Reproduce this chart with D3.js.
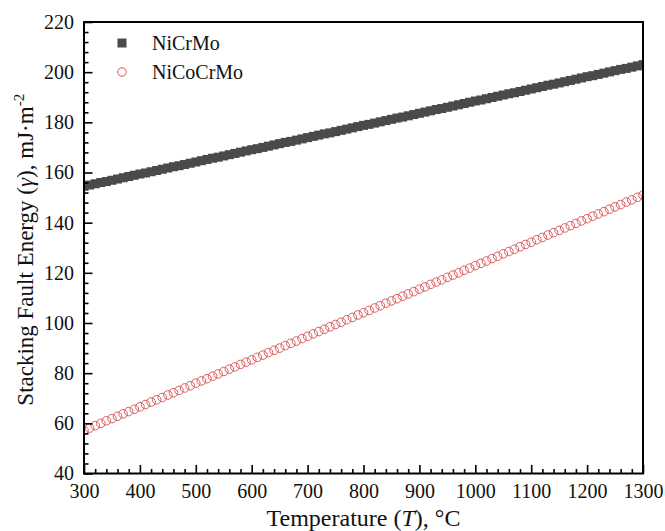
<!DOCTYPE html>
<html>
<head>
<meta charset="utf-8">
<script src="https://cdn.jsdelivr.net/npm/d3@7"></script>
<style>
  html, body { margin: 0; padding: 0; background: #fff; }
  svg { display: block; }
  text { font-family: "Liberation Serif", "Times New Roman", serif; fill: #111; }
</style>
</head>
<body>
<svg id="chart" width="665" height="531"></svg>
<script>
// ---- data ----
const temperatures = [300,310,320,330,340,350,360,370,380,390,400,410,420,430,440,450,460,470,480,490,500,510,520,530,540,550,560,570,580,590,600,610,620,630,640,650,660,670,680,690,700,710,720,730,740,750,760,770,780,790,800,810,820,830,840,850,860,870,880,890,900,910,920,930,940,950,960,970,980,990,1000,1010,1020,1030,1040,1050,1060,1070,1080,1090,1100,1110,1120,1130,1140,1150,1160,1170,1180,1190,1200,1210,1220,1230,1240,1250,1260,1270,1280,1290,1300];
const sfeNiCrMo = [154.5,155.0,155.5,156.0,156.4,156.9,157.4,157.9,158.4,158.9,159.4,159.8,160.3,160.8,161.3,161.8,162.3,162.7,163.2,163.7,164.2,164.7,165.2,165.7,166.1,166.6,167.1,167.6,168.1,168.6,169.1,169.5,170.0,170.5,171.0,171.5,172.0,172.4,172.9,173.4,173.9,174.4,174.9,175.4,175.8,176.3,176.8,177.3,177.8,178.3,178.8,179.2,179.7,180.2,180.7,181.2,181.7,182.1,182.6,183.1,183.6,184.1,184.6,185.1,185.5,186.0,186.5,187.0,187.5,188.0,188.5,188.9,189.4,189.9,190.4,190.9,191.4,191.8,192.3,192.8,193.3,193.8,194.3,194.8,195.2,195.7,196.2,196.7,197.2,197.7,198.2,198.6,199.1,199.6,200.1,200.6,201.1,201.5,202.0,202.5,203.0];
const sfeNiCoCrMo = [57.2,58.1,59.1,60.0,61.0,61.9,62.8,63.8,64.7,65.6,66.6,67.5,68.5,69.4,70.3,71.3,72.2,73.1,74.1,75.0,76.0,76.9,77.8,78.8,79.7,80.7,81.6,82.5,83.5,84.4,85.3,86.3,87.2,88.2,89.1,90.0,91.0,91.9,92.8,93.8,94.7,95.7,96.6,97.5,98.5,99.4,100.3,101.3,102.2,103.2,104.1,105.0,106.0,106.9,107.9,108.8,109.7,110.7,111.6,112.5,113.5,114.4,115.4,116.3,117.2,118.2,119.1,120.0,121.0,121.9,122.9,123.8,124.7,125.7,126.6,127.6,128.5,129.4,130.4,131.3,132.2,133.2,134.1,135.1,136.0,136.9,137.9,138.8,139.7,140.7,141.6,142.6,143.5,144.4,145.4,146.3,147.2,148.2,149.1,150.1,151.0];
const seriesNames = ["NiCrMo", "NiCoCrMo"];
const xTickValues = [300,400,500,600,700,800,900,1000,1100,1200,1300];
const yTickValues = [40,60,80,100,120,140,160,180,200,220];

// ---- layout ----
const W = 665, H = 531;
const margin = {left: 84, right: 22, top: 22, bottom: 57.5};
const iw = W - margin.left - margin.right;
const ih = H - margin.top - margin.bottom;

const svg = d3.select("#chart");
const g = svg.append("g").attr("transform", `translate(${margin.left},${margin.top})`);

const x = d3.scaleLinear().domain([300, 1300]).range([0, iw]);
const y = d3.scaleLinear().domain([40, 220]).range([ih, 0]);

svg.append("defs").append("clipPath").attr("id", "clip")
  .append("rect").attr("x", 0).attr("y", 0).attr("width", iw).attr("height", ih);

const plot = g.append("g").attr("clip-path", "url(#clip)");

const squareSize = 9;
const sqColor = "#4a4a4a";
const circColor = "#dd5c5c";
const circR = 4.3;

// NiCoCrMo circles
plot.append("g").selectAll("circle")
  .data(temperatures.map((t, i) => ({t, v: sfeNiCoCrMo[i]})))
  .join("circle")
  .attr("cx", d => x(d.t))
  .attr("cy", d => y(d.v))
  .attr("r", circR)
  .attr("fill", "none")
  .attr("stroke", circColor)
  .attr("stroke-width", 1);

// NiCrMo squares
plot.append("g").selectAll("rect")
  .data(temperatures.map((t, i) => ({t, v: sfeNiCrMo[i]})))
  .join("rect")
  .attr("x", d => x(d.t) - squareSize / 2)
  .attr("y", d => y(d.v) - squareSize / 2)
  .attr("width", squareSize)
  .attr("height", squareSize)
  .attr("fill", sqColor);

// ---- axes ----
const xMinor = d3.range(300, 1301, 20).filter(v => !xTickValues.includes(v));
const yMinor = d3.range(40, 221, 4).filter(v => !yTickValues.includes(v));

const xAxis = g.append("g").attr("transform", `translate(0,${ih})`);
xAxis.call(d3.axisBottom(x).tickValues(xTickValues).tickSize(-8.5).tickPadding(10).tickFormat(d3.format("d")));
xAxis.append("g").call(d3.axisBottom(x).tickValues(xMinor).tickSize(-4.5).tickFormat(""));

const yAxis = g.append("g");
yAxis.call(d3.axisLeft(y).tickValues(yTickValues).tickSize(-8.5).tickPadding(10).tickFormat(d3.format("d")));
yAxis.append("g").call(d3.axisLeft(y).tickValues(yMinor).tickSize(-4.5).tickFormat(""));

g.selectAll(".domain").remove();
g.selectAll(".tick line").attr("stroke", "#000").attr("stroke-width", 1.6);
g.selectAll(".tick text").style("font-family", "'Liberation Serif', serif").style("font-size", "20px").attr("fill", "#111");

// frame
g.append("rect").attr("x", 0).attr("y", 0).attr("width", iw).attr("height", ih)
  .attr("fill", "none").attr("stroke", "#000").attr("stroke-width", 2);

// ---- axis titles ----
const xt = svg.append("text")
  .attr("x", margin.left + iw / 2).attr("y", 526)
  .attr("text-anchor", "middle").style("font-size", "24px");
xt.append("tspan").text("Temperature (");
xt.append("tspan").style("font-style", "italic").text("T");
xt.append("tspan").text("), °C");

const yt = svg.append("text")
  .attr("transform", `translate(33,${margin.top + ih / 2 + 2}) rotate(-90)`)
  .attr("text-anchor", "middle").style("font-size", "23px");
yt.append("tspan").text("Stacking Fault Energy (");
yt.append("tspan").style("font-style", "italic").text("γ");
yt.append("tspan").text("), mJ·m");
yt.append("tspan").attr("dy", -9).style("font-size", "15px").text("-2");

// ---- legend ----
const leg = svg.append("g");
leg.append("rect").attr("x", 122 - squareSize / 2).attr("y", 43 - squareSize / 2)
  .attr("width", squareSize).attr("height", squareSize).attr("fill", sqColor);
leg.append("circle").attr("cx", 122).attr("cy", 72).attr("r", circR)
  .attr("fill", "none").attr("stroke", circColor).attr("stroke-width", 1);
leg.append("text").attr("x", 152).attr("y", 50).style("font-size", "20px").text(seriesNames[0]);
leg.append("text").attr("x", 152).attr("y", 79).style("font-size", "20px").text(seriesNames[1]);
</script>
</body>
</html>
